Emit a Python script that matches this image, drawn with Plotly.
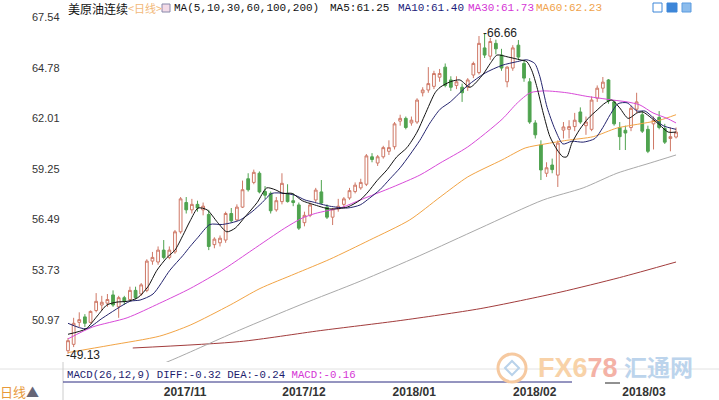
import plotly.graph_objects as go

# ---------------- data ----------------
opens = [49.30, 49.65, 50.85, 51.15, 50.85, 51.50, 51.80, 51.90, 52.35, 51.70,
         52.20, 52.10, 52.60, 52.40, 52.60, 54.20, 54.15, 54.80, 54.40, 54.70,
         55.80, 57.40, 57.00, 57.30, 57.00, 56.75, 55.10, 55.20, 55.35, 56.80,
         56.45, 57.15, 58.70, 58.50, 59.00, 58.00, 57.90, 57.00, 57.45, 57.90,
         57.50, 57.27, 56.30, 56.70, 57.54, 57.98, 57.15, 56.60, 57.05, 57.30,
         57.65, 58.00, 58.20, 58.40, 59.90, 59.56, 59.90, 60.20, 60.45, 61.85,
         62.00, 61.75, 61.80, 63.40, 63.55, 63.75, 64.25, 64.80, 64.10, 63.80,
         63.70, 63.70, 64.37, 64.50, 65.85, 65.40, 66.10, 65.46, 64.00, 64.75,
         66.00, 65.00, 64.00, 61.75, 60.55, 59.00, 59.45, 58.90, 61.36, 61.40,
         61.55, 62.35, 61.60, 61.40, 63.10, 63.65, 64.10, 62.90, 61.50, 61.35,
         61.50, 62.50, 62.20, 61.40, 61.70, 62.05, 61.45, 60.90, 60.98]
highs = [50.00, 51.10, 51.40, 51.30, 51.50, 52.45, 52.30, 52.40, 52.60, 52.30,
         52.30, 52.80, 52.80, 53.00, 54.30, 54.70, 55.00, 55.35, 55.00, 55.90,
         57.70, 57.70, 57.60, 57.50, 57.40, 57.00, 55.50, 55.60, 56.90, 57.10,
         57.30, 58.60, 59.00, 59.20, 59.10, 58.30, 58.00, 57.70, 59.00, 58.40,
         57.90, 57.40, 56.90, 57.40, 58.20, 58.63, 57.30, 57.10, 57.60, 57.70,
         58.20, 58.50, 58.70, 60.05, 60.10, 60.00, 60.50, 60.80, 61.80, 62.20,
         62.10, 62.10, 63.10, 63.70, 64.80, 64.60, 64.70, 65.00, 64.30, 64.30,
         63.90, 64.20, 65.10, 66.50, 66.66, 66.40, 66.30, 65.80, 64.85, 66.00,
         66.28, 65.20, 64.20, 61.90, 60.80, 59.60, 59.80, 60.80, 61.80, 61.90,
         62.30, 62.60, 62.10, 63.20, 63.80, 64.26, 64.15, 63.00, 61.80, 61.60,
         62.70, 63.40, 62.40, 61.60, 62.10, 62.40, 61.70, 61.50, 61.50]
lows = [49.13, 49.50, 50.60, 50.60, 50.80, 51.40, 51.50, 51.70, 51.70, 51.10,
        51.80, 52.00, 52.10, 52.30, 52.50, 54.00, 54.00, 54.30, 54.30, 54.60,
        55.70, 56.80, 56.80, 56.90, 56.70, 54.80, 54.90, 55.00, 55.20, 56.30,
        56.40, 57.10, 58.00, 58.40, 57.90, 57.60, 56.80, 56.90, 57.30, 57.40,
        57.20, 55.90, 56.10, 56.60, 57.40, 57.30, 56.50, 56.17, 56.90, 57.10,
        57.55, 57.90, 58.10, 58.30, 59.60, 59.40, 59.80, 60.00, 60.30, 61.60,
        61.40, 61.60, 61.70, 63.20, 63.40, 63.60, 64.00, 63.70, 63.50, 63.60,
        62.90, 63.50, 64.20, 64.40, 65.30, 65.20, 65.50, 64.60, 63.70, 64.60,
        65.20, 64.00, 61.70, 60.90, 58.63, 58.80, 59.00, 58.25, 60.90, 60.90,
        61.30, 61.70, 61.10, 61.30, 62.90, 63.40, 62.80, 61.60, 60.27, 60.27,
        61.30, 62.30, 61.20, 60.10, 60.30, 61.40, 60.60, 60.20, 60.90]
closes = [49.85, 50.80, 51.00, 50.80, 51.45, 52.00, 51.95, 52.10, 51.80, 52.20,
          52.00, 52.60, 52.20, 52.90, 54.20, 54.40, 54.80, 54.40, 54.80, 55.80,
          57.60, 57.00, 57.30, 57.10, 57.20, 55.00, 55.40, 55.45, 56.80, 56.40,
          57.15, 58.10, 58.10, 59.05, 57.98, 57.80, 56.95, 57.50, 58.45, 57.45,
          57.40, 56.00, 56.70, 57.27, 58.08, 57.37, 56.60, 57.05, 57.20, 57.60,
          58.05, 58.35, 58.50, 59.95, 59.75, 59.90, 60.40, 60.40, 61.70, 62.00,
          61.50, 61.90, 63.00, 63.55, 63.90, 64.45, 64.45, 63.80, 63.70, 64.00,
          63.40, 64.10, 65.00, 66.10, 65.46, 66.20, 65.80, 64.75, 64.80, 65.85,
          65.35, 64.20, 61.80, 61.10, 59.18, 59.30, 59.20, 60.65, 61.53, 61.55,
          61.90, 61.80, 61.80, 63.00, 63.65, 63.98, 62.95, 61.70, 61.00, 61.20,
          62.55, 62.90, 61.30, 60.20, 61.90, 61.50, 60.70, 61.00, 61.25]
bar_idx = list(range(len(opens)))

# moving-average lines (bar position, value)
ma5_pos = [0, 3.2, 5.2, 6.9, 8.7, 10.5, 12.4, 14.2, 15.8, 17.6, 19, 20.4, 21.7, 23.1, 24.7,
           26.6, 28.2, 29.7, 31.4, 33.6, 35.3, 36.8, 38.2, 39.8, 41.6, 43.5, 46.5, 49.6,
           51.9, 53.3, 54.9, 56.7, 58.4, 60.2, 62, 63.4, 65.2, 66.1, 67.9, 69.6, 71.4,
           73.7, 75, 76.2, 78.2, 80.3, 81.5, 82.4, 83.3, 84.4, 85.6, 86.9, 87.9, 88.6,
           89.5, 90.9, 92.4, 94, 95.4, 96.6, 98, 99.5, 101.1, 102.1, 103.7, 105.1, 106.6, 108]
ma5_val = [50.2, 50.5, 51.2, 51.8, 51.96, 52.0, 52.2, 52.8, 53.7, 54.4, 54.8, 55.6, 56.4, 57.1, 57.0,
           56.3, 55.8, 56.0, 56.6, 57.4, 58.2, 58.1, 57.9, 57.9, 57.5, 57.3, 57.05, 57.15,
           57.54, 57.98, 58.6, 59.2, 59.9, 60.4, 61.25, 62.2, 63.4, 63.7, 64.0, 64.1, 63.7,
           64.4, 65.0, 65.46, 65.35, 65.2, 65.1, 64.6, 63.7, 62.3, 61.0, 60.27, 59.9, 59.9,
           60.65, 61.4, 62.0, 62.46, 62.84, 63.0, 62.57, 62.0, 62.3, 62.35, 62.0, 61.64, 61.25, 61.25]
ma10_pos = [0, 3.2, 6.2, 11, 12.8, 15.1, 18.1, 20.4, 21.7, 23.1, 25.2, 27.4, 29.1, 30.6, 32.7,
            34.5, 36.2, 38.5, 40.3, 42.1, 43.5, 46.5, 49.6, 51.9, 53.6, 55.4, 57.2, 59, 60.7,
            62.5, 64.3, 66.1, 67.9, 71, 74.1, 77.1, 79.8, 81.5, 82.9, 83.8, 85.1, 86.5, 87.9,
            89.5, 91.5, 93.6, 95, 96.3, 97.7, 99.3, 101.1, 102.5, 103.9, 105.7, 108]
ma10_val = [50.8, 50.5, 51.1, 52.0, 52.07, 52.4, 53.7, 54.5, 55.0, 55.5, 56.2, 56.2, 56.3, 56.45, 56.9,
            57.4, 57.9, 57.9, 57.8, 57.54, 57.43, 57.2, 57.1, 57.27, 57.65, 58.1, 58.7, 59.3, 60.0,
            60.8, 61.75, 62.5, 62.9, 63.8, 64.48, 64.9, 65.1, 65.2, 65.0, 64.3, 62.6, 61.4, 60.6,
            60.75, 60.7, 60.9, 61.5, 62.2, 62.8, 62.85, 62.4, 62.4, 62.05, 61.6, 61.40]
ma30_pos = [0, 4.4, 10.5, 16.3, 21.7, 27.9, 32.7, 38.5, 41.6, 43.9, 48.8, 51.9, 57.7, 62.5,
            66.1, 71, 77.1, 79.8, 82.1, 84.7, 88.6, 92.2, 94.5, 96.8, 99.3, 101.6, 103.9, 106.4, 108]
ma30_val = [49.95, 50.6, 51.1, 51.9, 52.7, 53.8, 54.8, 56.0, 56.55, 56.8, 57.15, 57.54, 58.25, 58.9,
            59.56, 60.44, 61.95, 62.84, 63.4, 63.5, 63.4, 63.2, 63.1, 63.0, 62.9, 62.73, 62.3, 62.0, 61.75]
ma60_pos = [0, 7.5, 16.3, 21.7, 28.8, 34.1, 40.3, 46.5, 53.6, 60.7, 66.1, 71, 77.1, 81.2,
            84.7, 88.6, 93.3, 97.5, 101.6, 105.1, 108]
ma60_val = [49.2, 49.6, 50.1, 50.7, 51.8, 52.7, 53.5, 54.3, 55.35, 56.45, 57.7, 58.8, 59.73, 60.38,
            60.6, 60.8, 61.0, 61.47, 61.7, 61.9, 62.2]
ma100_pos = [12, 18.5, 30.5, 41.2, 51.9, 62.5, 73.2, 84.4, 91.5, 97.5, 103.4, 108]
ma100_val = [48.0, 48.8, 50.43, 51.8, 53.1, 54.5, 56.0, 57.54, 58.2, 59.0, 59.56, 60.0]
ma200_pos = [11.5, 30.5, 44.8, 59, 73.2, 87.4, 98, 108]
ma200_val = [49.45, 49.8, 50.4, 50.95, 51.6, 52.5, 53.3, 54.15]

ytick_vals = [67.54, 64.78, 62.01, 59.25, 56.49, 53.73, 50.97]
ytick_text = ["67.54", "64.78", "62.01", "59.25", "56.49", "53.73", "50.97"]
month_pos = [20.8, 41.9, 61.5, 82.9, 102.3]
month_labels = ["2017/11", "2017/12", "2018/01", "2018/02", "2018/03"]

high_idx, high_val = 74, 66.66
low_idx, low_val = 0, 49.13

title_name = "美原油连续"
title_period = "<日线>"
ma_spec = "MA(5,10,30,60,100,200)"
ma_legend = [("MA5:61.25", "#111111"), ("MA10:61.40", "#1c1c7a"),
             ("MA30:61.73", "#d535d5"), ("MA60:62.23", "#f0a24a")]
macd_text = "MACD(26,12,9) DIFF:-0.32 DEA:-0.24 "
macd_hist = "MACD:-0.16"

# ---------------- geometry ----------------
W, H = 719, 400
ML, MR, MT, MB = 64, 14, 2, 38
PW, PH = W - ML - MR, H - MT - MB


def px(x):
    return (x - ML) / PW


def py(y):
    return (H - MB - y) / PH


fig = go.Figure()

line_specs = [
    (ma200_pos, ma200_val, "#a23c3c"),
    (ma100_pos, ma100_val, "#a9a9a9"),
    (ma60_pos, ma60_val, "#f2a445"),
    (ma30_pos, ma30_val, "#d84ad8"),
    (ma10_pos, ma10_val, "#24246e"),
    (ma5_pos, ma5_val, "#111111"),
]

fig.add_trace(go.Candlestick(
    x=bar_idx, open=opens, high=highs, low=lows, close=closes,
    increasing=dict(line=dict(color="#cf7866", width=1), fillcolor="#ffffff"),
    decreasing=dict(line=dict(color="#4fa34f", width=1), fillcolor="#4fa34f"),
    whiskerwidth=0, showlegend=False, hoverinfo="skip"))

for xs, ys, col in line_specs:
    fig.add_trace(go.Scatter(x=xs, y=ys, mode="lines",
                             line=dict(color=col, width=1, shape="spline", smoothing=0.7),
                             showlegend=False, hoverinfo="skip"))

ann = []
# price-scale labels (left of the plot)
for v, t in zip(ytick_vals, ytick_text):
    ann.append(dict(x=px(62), y=v, xref="paper", yref="y", text=t, showarrow=False,
                    xanchor="right", yanchor="middle",
                    font=dict(family="Arial, Liberation Sans", size=11, color="#333333")))
# high / low labels
ann.append(dict(x=high_idx, y=high_val, xref="x", yref="y", text="-" + f"{high_val:.2f}",
                showarrow=False, xanchor="left", yanchor="middle", xshift=-4,
                font=dict(family="Arial, Liberation Sans", size=12, color="#222222")))
ann.append(dict(x=low_idx, y=low_val, xref="x", yref="y", text="-" + f"{low_val:.2f}",
                showarrow=False, xanchor="left", yanchor="middle", xshift=-4, yshift=-1,
                font=dict(family="Arial, Liberation Sans", size=12, color="#222222")))

# top legend row
ty = py(8)
ann.append(dict(x=px(66), y=ty, xref="paper", yref="paper", text=title_name, showarrow=False,
                xanchor="left", yanchor="middle",
                font=dict(family="Noto Sans CJK SC", size=12, color="#111111")))
ann.append(dict(x=px(126), y=ty, xref="paper", yref="paper", text=title_period, showarrow=False,
                xanchor="left", yanchor="middle",
                font=dict(family="Noto Sans CJK SC", size=11, color="#f2b878")))
ann.append(dict(x=px(172), y=ty, xref="paper", yref="paper", text=ma_spec, showarrow=False,
                xanchor="left", yanchor="middle",
                font=dict(family="Liberation Mono", size=11, color="#111111")))
for (txt, col), xpix in zip(ma_legend, [328, 396, 466, 534]):
    ann.append(dict(x=px(xpix), y=ty, xref="paper", yref="paper", text=txt, showarrow=False,
                    xanchor="left", yanchor="middle",
                    font=dict(family="Liberation Mono", size=11, color=col)))

# MACD caption
ann.append(dict(x=px(65), y=py(375), xref="paper", yref="paper",
                text=macd_text + f"<span style='color:#d535d5'>{macd_hist}</span>",
                showarrow=False, xanchor="left", yanchor="middle",
                font=dict(family="Liberation Mono", size=10.7, color="#1c1c6e")))
# period selector bottom-left
ann.append(dict(x=px(-2), y=py(391), xref="paper", yref="paper",
                text="<span style='color:#e89a3a'>日线</span><span style='color:#666677'>▲</span>",
                showarrow=False, xanchor="left", yanchor="middle",
                font=dict(family="Noto Sans CJK SC", size=13, color="#e89a3a")))
# watermark
ann.append(dict(x=px(536), y=py(368), xref="paper", yref="paper",
                text="<b><span style='color:#f8d2a8'>FX6</span><span style='color:#f4b2a6'>78</span></b>",
                showarrow=False, xanchor="left", yanchor="middle",
                font=dict(family="Liberation Sans, Arial", size=27)))
ann.append(dict(x=px(622), y=py(366), xref="paper", yref="paper", text="<b>汇通网</b>",
                showarrow=False, xanchor="left", yanchor="middle",
                font=dict(family="Noto Sans CJK SC", size=23, color="#bcd4ec")))

shapes = []
# separators of the lower panel
shapes.append(dict(type="line", xref="paper", yref="paper", x0=px(0), x1=px(719),
                   y0=py(369), y1=py(369), line=dict(color="#e2e2e2", width=1)))
shapes.append(dict(type="line", xref="paper", yref="paper", x0=px(63), x1=px(63),
                   y0=py(362), y1=py(400), line=dict(color="#cccccc", width=1)))
shapes.append(dict(type="line", xref="paper", yref="paper", x0=px(63), x1=px(572),
                   y0=py(382), y1=py(382), line=dict(color="#2a2a80", width=1)))
shapes.append(dict(type="line", xref="paper", yref="paper", x0=px(605), x1=px(620),
                   y0=py(383), y1=py(383), line=dict(color="#222222", width=1)))
# watermark logo ring
shapes.append(dict(type="circle", xref="paper", yref="paper", x0=px(498), x1=px(526),
                   y0=py(382), y1=py(354), line=dict(color="#f6c9a0", width=3)))
shapes.append(dict(type="path", xref="paper", yref="paper",
                   path=f"M {px(505)},{py(368)} L {px(512)},{py(361)} L {px(519)},{py(368)} L {px(512)},{py(375)} Z",
                   line=dict(color="#b9d2ea", width=2)))
# small icons
shapes.append(dict(type="rect", xref="paper", yref="paper", x0=px(162), x1=px(170),
                   y0=py(12), y1=py(4), line=dict(color="#8888aa", width=1), fillcolor="#f3dbe8"))
shapes.append(dict(type="rect", xref="paper", yref="paper", x0=px(653), x1=px(662),
                   y0=py(12), y1=py(3), line=dict(color="#3d86d8", width=1), fillcolor="#ffffff"))
shapes.append(dict(type="rect", xref="paper", yref="paper", x0=px(667), x1=px(677),
                   y0=py(12), y1=py(3), line=dict(color="#3d86d8", width=1), fillcolor="#3d86d8"))
shapes.append(dict(type="rect", xref="paper", yref="paper", x0=px(682), x1=px(691),
                   y0=py(12), y1=py(3), line=dict(color="#5b9be0", width=1), fillcolor="#8cbcec"))

ytop = 67.54 + (17 - MT) * (2.76 / 50.5)
ybot = 67.54 - (H - MB - 17) * (2.76 / 50.5)
xl = (ML - 68) / 5.63
xr = (W - MR - 68) / 5.63

fig.update_layout(
    width=W, height=H, autosize=False,
    margin=dict(l=ML, r=MR, t=MT, b=MB, pad=0),
    paper_bgcolor="white", plot_bgcolor="white",
    showlegend=False,
    annotations=ann, shapes=shapes,
    xaxis=dict(range=[xl, xr], showgrid=False, zeroline=False, showline=False,
               rangeslider=dict(visible=False), automargin=False,
               tickmode="array", tickvals=month_pos,
               ticktext=["<b>" + m + "</b>" for m in month_labels],
               ticks="outside", ticklen=19, tickcolor="rgba(0,0,0,0)",
               tickfont=dict(family="Arial, Liberation Sans", size=12, color="#333333"),
               fixedrange=True),
    yaxis=dict(range=[ybot, ytop], showgrid=False, zeroline=False, showline=False,
               showticklabels=False, ticks="", automargin=False,
               fixedrange=True),
)

fig.write_html("out.html", config={"displayModeBar": False},
               post_script="document.body.style.margin='0px';document.body.style.padding='0px';")
